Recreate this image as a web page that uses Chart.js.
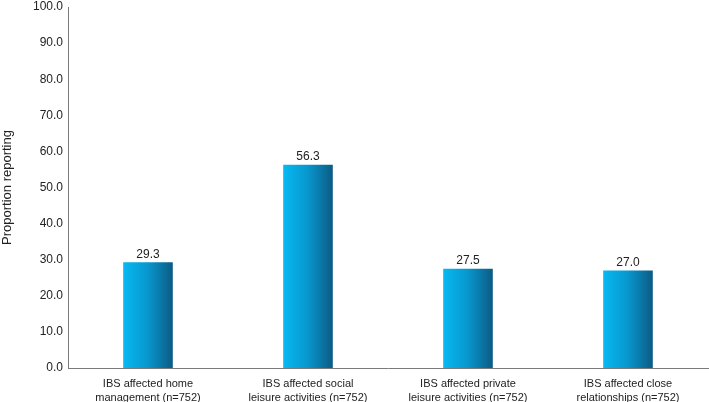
<!DOCTYPE html>
<html>
<head>
<meta charset="utf-8">
<script src="https://cdn.jsdelivr.net/npm/chart.js"></script>
<style>
  html, body { margin: 0; padding: 0; background: #fff; }
  #wrap { width: 709px; height: 402px; }
</style>
</head>
<body>
<div id="wrap"><canvas id="grafico"></canvas></div>
<script>
  // ---------- dados ----------
  const categorias = [
    ["IBS affected home", "management (n=752)"],
    ["IBS affected social", "leisure activities (n=752)"],
    ["IBS affected private", "leisure activities (n=752)"],
    ["IBS affected close", "relationships (n=752)"]
  ];
  const proporcoes = [29.3, 56.3, 27.5, 27.0];
  const yMin = 0, yMax = 100, yPasso = 10;

  const FONTE = "Helvetica, 'Liberation Sans', Arial, sans-serif";

  // gradiente horizontal, um por barra
  const gradienteBarras = {
    id: "gradienteBarras",
    beforeDatasetsDraw(chart) {
      const ctx = chart.ctx;
      chart.getDatasetMeta(0).data.forEach((bar) => {
        const x0 = bar.x - bar.width / 2;
        const g = ctx.createLinearGradient(x0, 0, x0 + bar.width, 0);
        g.addColorStop(0, "#06b9f3");
        g.addColorStop(0.5, "#0896cd");
        g.addColorStop(1, "#0b5b84");
        // copia as opções (são compartilhadas entre as barras)
        bar.options = Object.assign({}, bar.options, { backgroundColor: g });
      });
    }
  };

  // valores em cima das barras
  const rotulos = {
    id: "rotulos",
    afterDatasetsDraw(chart) {
      const ctx = chart.ctx;
      ctx.save();
      ctx.font = "12px " + FONTE;
      ctx.fillStyle = "#222";
      ctx.textAlign = "center";
      ctx.textBaseline = "bottom";
      chart.getDatasetMeta(0).data.forEach((bar, i) => {
        ctx.fillText(proporcoes[i].toFixed(1), bar.x, bar.y - 2);
      });
      ctx.restore();
    }
  };

  new Chart(document.getElementById("grafico"), {
    type: "bar",
    data: {
      labels: categorias,
      datasets: [{
        data: proporcoes,
        backgroundColor: "#0896cd",
        borderWidth: 0,
        barPercentage: 0.31,
        categoryPercentage: 1
      }]
    },
    options: {
      responsive: true,
      maintainAspectRatio: false,
      animation: false,
      layout: { padding: { top: 7, right: 1, bottom: 0, left: 0 } },
      plugins: {
        legend: { display: false },
        tooltip: { enabled: false }
      },
      scales: {
        x: {
          grid: { display: false, drawTicks: false },
          border: { display: true, color: "#7a7a7a", width: 1 },
          afterFit: (s) => { s.height = 34; },
          ticks: {
            color: "#222",
            font: { family: FONTE, size: 11, lineHeight: 1.25 },
            padding: 9,
            maxRotation: 0,
            autoSkip: false
          }
        },
        y: {
          min: yMin,
          max: yMax,
          grid: { display: false, drawTicks: false },
          border: { display: true, color: "#7a7a7a", width: 1 },
          afterFit: (s) => { s.width = 68; s.paddingTop = 0; },
          ticks: {
            stepSize: yPasso,
            color: "#222",
            padding: 5,
            font: { family: FONTE, size: 12 },
            callback: (v) => Number(v).toFixed(1)
          },
          title: {
            display: true,
            text: "Proportion reporting",
            color: "#222",
            font: { family: FONTE, size: 13 },
            padding: { top: 0, bottom: 4 }
          }
        }
      }
    },
    plugins: [gradienteBarras, rotulos]
  });
</script>
</body>
</html>
